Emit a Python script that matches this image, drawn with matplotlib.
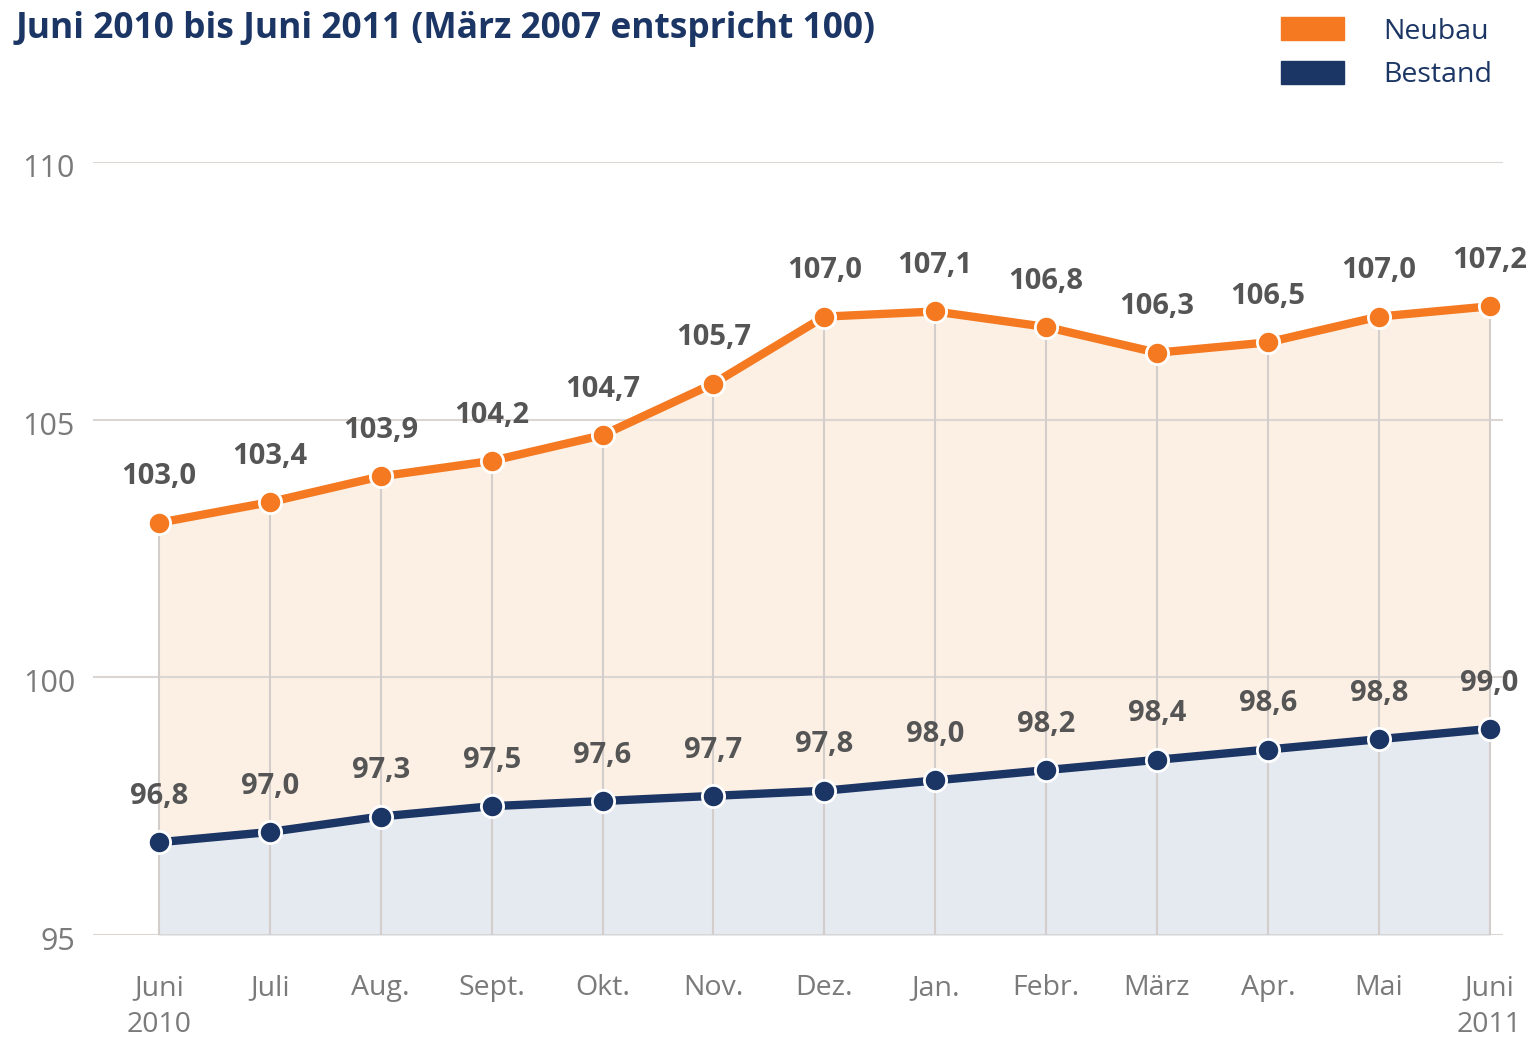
import matplotlib
matplotlib.use("Agg")
import matplotlib.pyplot as plt
import matplotlib.transforms as mtransforms
from matplotlib.patches import Patch
import numpy as np

months = ['Juni\n2010', 'Juli', 'Aug.', 'Sept.', 'Okt.', 'Nov.', 'Dez.',
          'Jan.', 'Febr.', 'März', 'Apr.', 'Mai', 'Juni\n2011']
neubau = [103.0, 103.4, 103.9, 104.2, 104.7, 105.7, 107.0,
          107.1, 106.8, 106.3, 106.5, 107.0, 107.2]
bestand = [96.8, 97.0, 97.3, 97.5, 97.6, 97.7, 97.8,
           98.0, 98.2, 98.4, 98.6, 98.8, 99.0]
yticks = [95, 100, 105, 110]

orange = '#F47920'
navy = '#1B3564'
label_gray = '#555555'
tick_gray = '#7a7a7a'

plt.rcParams['font.family'] = ['Open Sans', 'DejaVu Sans']

fig = plt.figure(figsize=(15.35, 10.38), dpi=100)
ax = fig.add_axes([0.0606, 0.0992, 0.9185, 0.7447])

x = np.arange(len(months))

# filled areas
ax.fill_between(x, 95, neubau, color='#FCF0E5', zorder=1)
ax.fill_between(x, 95, bestand, color='#E5EAF0', zorder=2)

# grid on top of the fills
for yv in yticks:
    ax.axhline(yv, color='#DCD6D2', lw=1.5, zorder=2.5)
ax.vlines(x, 95, neubau, color='#D3CECB', lw=1.5, zorder=3)

# lines
ax.plot(x, neubau, color=orange, lw=6, zorder=4, solid_capstyle='round')
ax.plot(x, bestand, color=navy, lw=6, zorder=4, solid_capstyle='round')
ax.plot(x, neubau, 'o', ms=16, mfc=orange, mec='white', mew=2, zorder=5, clip_on=False)
ax.plot(x, bestand, 'o', ms=16, mfc=navy, mec='white', mew=2, zorder=5, clip_on=False)

def fmt(v):
    return f'{v:.1f}'.replace('.', ',')

for xi, v in zip(x, neubau):
    ax.annotate(fmt(v), (xi, v), xytext=(0, 33), textcoords='offset points',
                ha='center', va='center', fontsize=21, fontweight='bold',
                color=label_gray, annotation_clip=False, zorder=6)
for xi, v in zip(x, bestand):
    ax.annotate(fmt(v), (xi, v), xytext=(0, 33), textcoords='offset points',
                ha='center', va='center', fontsize=21, fontweight='bold',
                color=label_gray, annotation_clip=False, zorder=6)

ax.set_xlim(-0.595, 12.12)
ax.set_ylim(95, 110)
ax.set_yticks(yticks)
ax.set_yticklabels([str(t) for t in yticks])
ax.set_xticks(x)
ax.set_xticklabels(months, linespacing=1.45)
ax.tick_params(axis='both', length=0, labelsize=20.5, labelcolor=tick_gray)
ax.tick_params(axis='y', labelsize=22, pad=13)
ax.tick_params(axis='x', pad=28)
shift = mtransforms.ScaledTranslation(0, -5 / 72, fig.dpi_scale_trans)
for lbl in ax.get_yticklabels():
    lbl.set_verticalalignment('center')
    lbl.set_transform(lbl.get_transform() + shift)
for s in ax.spines.values():
    s.set_visible(False)

fig.text(0.01, 0.972, 'Juni 2010 bis Juni 2011 (März 2007 entspricht 100)',
         fontsize=25.5, fontweight='bold', color=navy, va='center', ha='left')

handles = [Patch(color=orange, label='Neubau'), Patch(color=navy, label='Bestand')]
leg = fig.legend(handles=handles, loc='upper right', bbox_to_anchor=(0.989, 1.008),
                 frameon=False, fontsize=20.5, handlelength=2.2, handleheight=0.85,
                 handletextpad=1.4, labelspacing=0.55)
for t in leg.get_texts():
    t.set_color(navy)

fig.savefig('out.png', dpi=100)
